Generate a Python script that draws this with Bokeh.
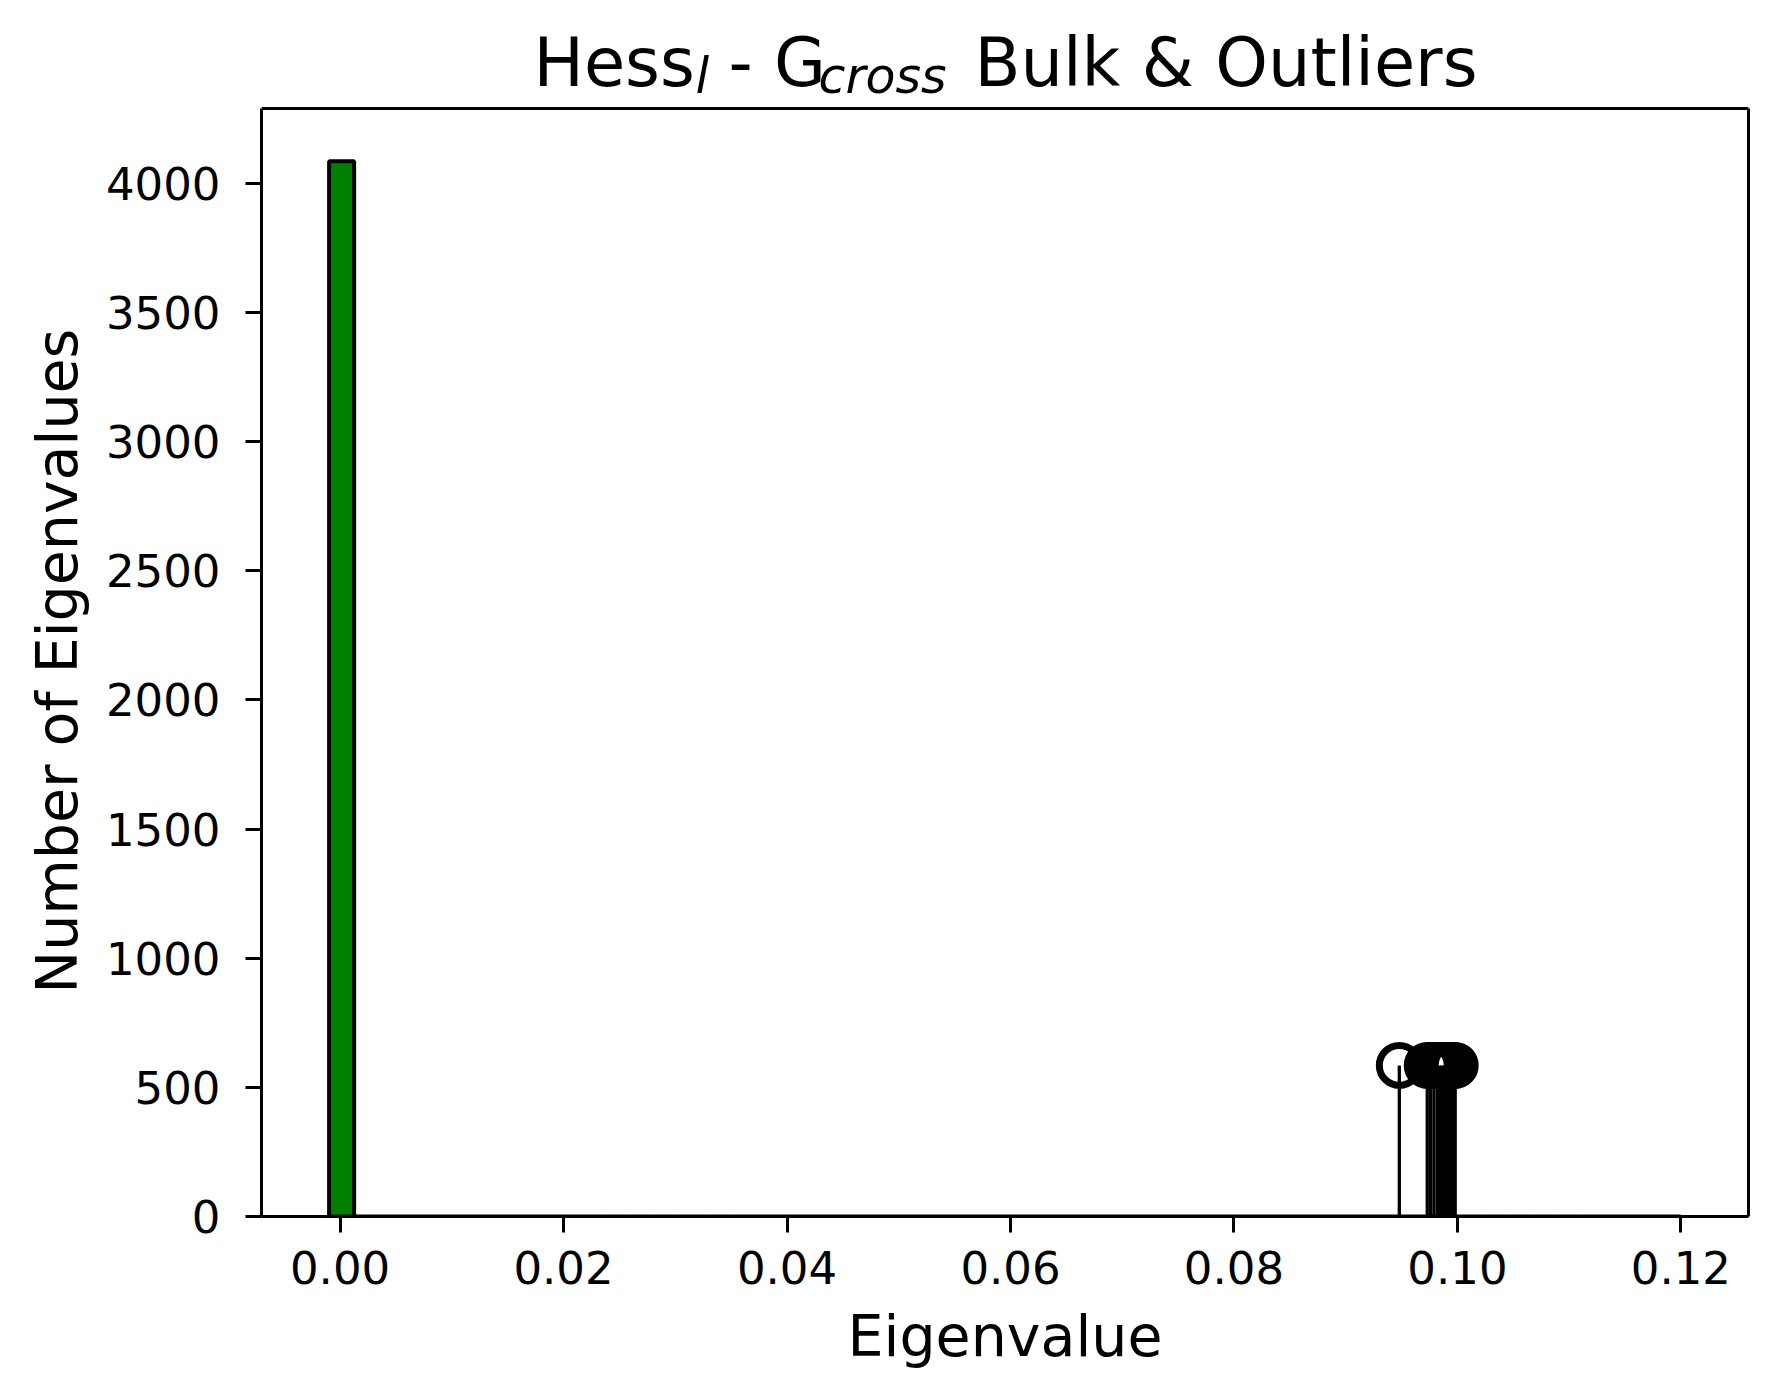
from bokeh.plotting import figure
from bokeh.models import (Range1d, FixedTicker, PrintfTickFormatter, Label,
                          LinearAxis, Span, Title)
from bokeh.embed import file_html
from bokeh.resources import INLINE

# ---------------- data ----------------
bin_start = -0.00098
bin_width = 0.00224
bulk_counts = [4086] + [0] * 53          # histogram of the bulk eigenvalues
outlier_values = [0.0948, 0.0973, 0.0976, 0.0979, 0.0982, 0.0984, 0.0986,
                  0.0988, 0.0990, 0.0992, 0.0994, 0.0996, 0.0998]
outlier_heights = [585] * len(outlier_values)
x_ticks = [0.00, 0.02, 0.04, 0.06, 0.08, 0.10, 0.12]
y_ticks = [0, 500, 1000, 1500, 2000, 2500, 3000, 3500, 4000]

FONT = "DejaVu Sans"

lefts = [bin_start + i * bin_width for i in range(len(bulk_counts))]
rights = [l + bin_width for l in lefts]
bottoms = [0] * len(bulk_counts)

# axes box (page pixels) and data limits
x0, x1 = -0.00703, 0.12605
y0, y_top = 0, 4290
W, H = 1770, 1390
FL, FR = 261, 1748          # frame left / right
BOX_TOP, FB = 108, 1216     # visible axes box top, frame bottom

# frame extends to the top of the canvas so the title can live inside it
ppu_y = (FB - BOX_TOP) / (y_top - y0)
y1 = y_top + BOX_TOP / ppu_y
ppu_x = (FR - FL) / (x1 - x0)


def px_x(page_px):
    return x0 + (page_px - FL) / ppu_x


def px_y(page_py):
    return y_top + (BOX_TOP - page_py) / ppu_y


p = figure(width=W, height=H, output_backend="svg", toolbar_location=None,
           x_range=Range1d(x0, x1), y_range=Range1d(y0, y1),
           min_border_left=FL, min_border_right=W - FR,
           min_border_top=0, min_border_bottom=H - FB)
p.title.visible = False
p.xgrid.visible = False
p.ygrid.visible = False
p.outline_line_color = None
p.background_fill_color = "white"
p.border_fill_color = "white"

# histogram (bulk)
p.quad(left=lefts, right=rights, bottom=bottoms, top=bulk_counts,
       fill_color="#008000", line_color="black", line_width=4)

# stems (outliers)
p.segment(x0=outlier_values, y0=[0] * len(outlier_values),
          x1=outlier_values, y1=outlier_heights,
          line_color="black", line_width=3.3)
p.scatter(x=outlier_values, y=outlier_heights, size=40, marker="circle",
          fill_color=None, line_color="black", line_width=7)

# axes
for ax in (p.xaxis[0], p.yaxis[0]):
    ax.axis_line_width = 3
    ax.axis_line_color = "black"
    ax.major_tick_line_width = 3
    ax.major_tick_out = 16
    ax.major_tick_in = 0
    ax.minor_tick_line_color = None
    ax.major_label_text_font = FONT
    ax.major_label_text_font_size = "45px"
    ax.major_label_text_color = "black"
    ax.axis_label_text_font = FONT
    ax.axis_label_text_font_size = "57px"
    ax.axis_label_text_font_style = "normal"
    ax.axis_label_text_color = "black"

p.xaxis.ticker = FixedTicker(ticks=x_ticks)
p.xaxis.formatter = PrintfTickFormatter(format="%.2f")
p.xaxis.axis_label = "Eigenvalue"
p.xaxis.major_label_standoff = 18
p.xaxis.axis_label_standoff = 16

p.yaxis.ticker = FixedTicker(ticks=y_ticks)
p.yaxis.formatter = PrintfTickFormatter(format="%d")
p.yaxis.major_label_standoff = 25
p.yaxis.bounds = (y0, y_top)

# y-axis label, centred on the visible axes box (not on the taller frame)
ylab_text = "Number of Eigenvalues"
ylab = Title(text=ylab_text, align="left", offset=223, standoff=25,
             text_font=FONT, text_font_size="57px", text_font_style="normal",
             text_color="black")
p.add_layout(ylab, "left")

# right spine
right = LinearAxis(ticker=FixedTicker(ticks=[]), bounds=(y0, y_top),
                   axis_line_width=3, axis_line_color="black",
                   major_tick_line_color=None, minor_tick_line_color=None,
                   major_label_text_color=None)
p.add_layout(right, "right")
# top spine
p.add_layout(Span(location=y_top, dimension="width", line_color="black",
                  line_width=3))

# title made of pieces (normal text + italic subscripts)
main_base = px_y(62)
sub_base = px_y(76)
pieces = [
    ("Hess", 533, main_base, "67px", "normal"),
    ("l", 695, sub_base, "49px", "italic"),
    ("- G", 728, main_base, "67px", "normal"),
    ("cross", 818, sub_base, "49px", "italic"),
    ("Bulk & Outliers", 974, main_base, "67px", "normal"),
]
for txt, xp, yv, fs, style in pieces:
    p.add_layout(Label(x=px_x(xp), y=yv, text=txt, text_font=FONT,
                       text_font_size=fs, text_font_style=style,
                       text_color="black", text_align="left",
                       text_baseline="alphabetic"))

open("out.html", "w").write(file_html(p, INLINE))
